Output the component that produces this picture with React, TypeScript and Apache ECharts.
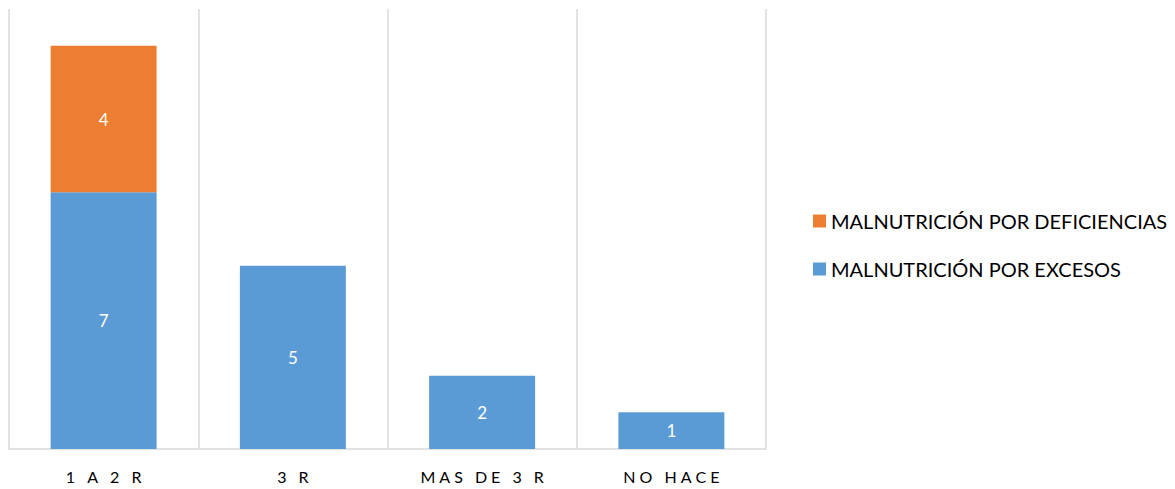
import React, { useEffect, useRef } from "react";
import * as echarts from "echarts";

const categories = ["1 A 2 R", "3 R", "MAS DE 3 R", "NO HACE"];
const excesos = [7, 5, 2, 1];
const deficiencias = [4, null, null, null];
const seriesNames = ["MALNUTRICIÓN POR EXCESOS", "MALNUTRICIÓN POR DEFICIENCIAS"];
const yMax = 12;

const FONT = "Lato, 'Open Sans', sans-serif";

export default function App() {
  const ref = useRef<HTMLDivElement>(null);

  useEffect(() => {
    if (!ref.current) return;
    const chart = echarts.init(ref.current, null, { renderer: "svg" });
    const label = {
      show: true,
      position: "inside",
      color: "#ffffff",
      fontSize: 17,
      fontFamily: FONT,
    };
    chart.setOption({
      animation: false,
      textStyle: { fontFamily: FONT },
      grid: { left: 9, right: 409, top: 9, bottom: 40, containLabel: false },
      legend: {
        orient: "vertical",
        left: 808,
        top: 206,
        itemWidth: 13,
        itemHeight: 13,
        itemGap: 28,
        icon: "rect",
        data: [seriesNames[1], seriesNames[0]],
        textStyle: { fontSize: 20, color: "#000000", fontFamily: FONT },
      },
      xAxis: {
        type: "category",
        data: categories,
        axisLine: { show: true, lineStyle: { color: "#D9D9D9", width: 1.5 } },
        axisTick: { show: false },
        splitLine: { show: true, lineStyle: { color: "#D9D9D9", width: 1.5 } },
        axisLabel: {
          color: "#000000",
          fontSize: 16,
          margin: 19,
          fontFamily: FONT,
          formatter: (v: string) => v.split("").join("\u2009\u2009"),
        },
      },
      yAxis: {
        type: "value",
        min: 0,
        max: yMax,
        show: false,
        splitLine: { show: false },
      },
      series: [
        {
          name: seriesNames[0],
          type: "bar",
          stack: "total",
          data: excesos,
          barWidth: "56%",
          itemStyle: { color: "#5B9BD5" },
          label,
        },
        {
          name: seriesNames[1],
          type: "bar",
          stack: "total",
          data: deficiencias,
          barWidth: "56%",
          itemStyle: { color: "#ED7D31" },
          label,
        },
      ],
    });
    return () => chart.dispose();
  }, []);

  return (
    <div
      ref={ref}
      style={{ position: "fixed", left: 0, top: 0, width: 1175, height: 489, background: "#ffffff" }}
    />
  );
}
